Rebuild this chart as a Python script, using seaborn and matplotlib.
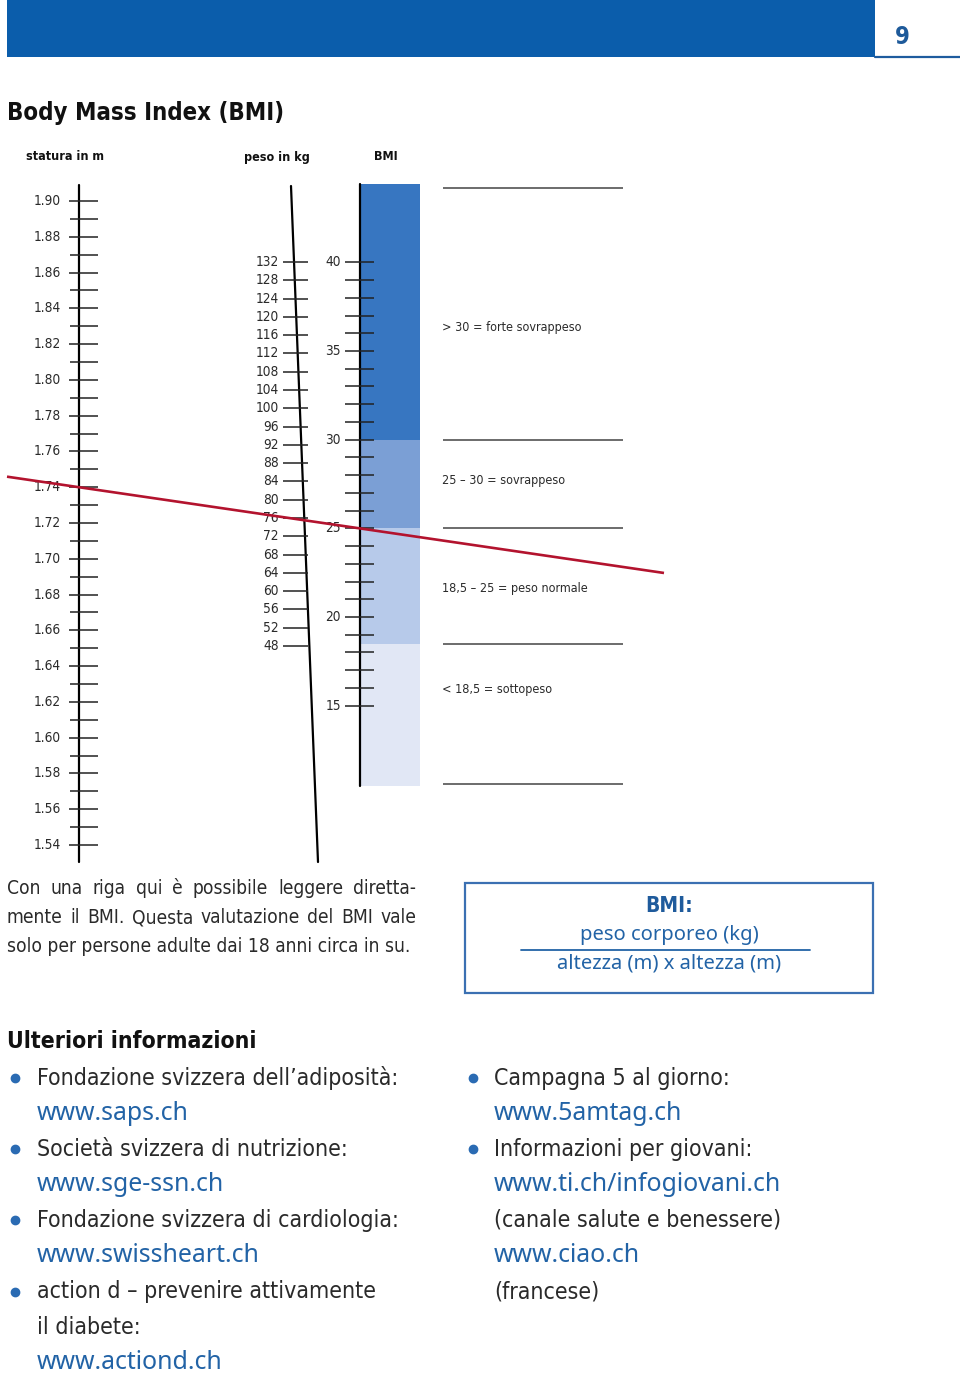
import numpy as np
import matplotlib
matplotlib.use("Agg")
import matplotlib.pyplot as plt
from matplotlib.patches import Rectangle
from matplotlib import font_manager as fm
import seaborn as sns

# ---------------- data ----------------
height_labels = [1.90, 1.88, 1.86, 1.84, 1.82, 1.80, 1.78, 1.76, 1.74, 1.72,
                 1.70, 1.68, 1.66, 1.64, 1.62, 1.60, 1.58, 1.56, 1.54]
weight_labels = [132, 128, 124, 120, 116, 112, 108, 104, 100, 96, 92, 88, 84,
                 80, 76, 72, 68, 64, 60, 56, 52, 48]
bmi_labels = [40, 35, 30, 25, 20, 15]
bmi_band_edges = [10.5, 18.5, 25, 30, 44.4]
bmi_band_colors = ["#E1E7F5", "#B7CAEA", "#7B9FD5", "#3776C1"]
bmi_categories = ["< 18,5 = sottopeso", "18,5 – 25 = peso normale",
                  "25 – 30 = sovrappeso", "> 30 = forte sovrappeso"]
bmi_category_pos = [15.9, 21.6, 27.7, 36.3]
example_height = 1.74
example_bmi = 25

left_items = [("Fondazione svizzera dell’adiposità:", "www.saps.ch"),
              ("Società svizzera di nutrizione:", "www.sge-ssn.ch"),
              ("Fondazione svizzera di cardiologia:", "www.swissheart.ch"),
              ("action d – prevenire attivamente\nil diabete:", "www.actiond.ch")]
right_lines = [("•", "Campagna 5 al giorno:"), ("url", "www.5amtag.ch"),
               ("•", "Informazioni per giovani:"), ("url", "www.ti.ch/infogiovani.ch"),
               ("", "(canale salute e benessere)"), ("url", "www.ciao.ch"),
               ("", "(francese)")]
paragraph = ["Con una riga qui è possibile leggere diretta-",
             "mente il BMI. Questa valutazione del BMI vale",
             "solo per persone adulte dai 18 anni circa in su."]

# ---------------- style ----------------
sns.set_theme(style="white")
names = {f.name for f in fm.fontManager.ttflist}
dv_cond = any(f.name == "DejaVu Sans" and str(f.stretch) in ("condensed", "semi-condensed")
              for f in fm.fontManager.ttflist)
if "Liberation Sans Narrow" in names:
    COND = dict(family=["Liberation Sans Narrow", "DejaVu Sans"])
elif dv_cond:
    COND = dict(family=["DejaVu Sans"], stretch="condensed")
else:
    COND = dict(family=["Roboto", "DejaVu Sans"])
URLF = ["Noto Sans", "Open Sans", "DejaVu Sans"]
plt.rcParams["font.family"] = ["DejaVu Sans"]

W, H = 960, 1384
fig = plt.figure(figsize=(W / 100, H / 100), dpi=100)
fig.patch.set_facecolor("white")


def overlay(v_top=None, px_top=None, v_bot=None, px_bot=None):
    ax = fig.add_axes([0, 0, 1, 1])
    ax.set_xlim(0, W)
    if v_top is None:
        ax.set_ylim(H, 0)
    else:
        s = (v_top - v_bot) / (px_bot - px_top)
        ax.set_ylim(v_top - (H - px_top) * s, v_top + px_top * s)
    ax.axis("off")
    ax.patch.set_alpha(0)
    return ax


ax0 = overlay()
TXT = "#2a2a2a"
BLUE = "#2263A6"

# header
ax0.add_patch(Rectangle((7, 0), 868, 57, color="#0B5DAB", lw=0))
ax0.plot([875, 960], [56.5, 56.5], color="#1E5C9E", lw=1.6)
ax0.text(902, 37, "9", color="#1E5A9A", fontsize=17, fontweight="bold", ha="center", va="center", **COND)

ax0.text(7, 113, "Body Mass Index (BMI)", fontsize=17.2, fontweight="bold", color="#111",
         ha="left", va="center", **COND)
for x, t in [(26, "statura in m"), (244, "peso in kg"), (374, "BMI")]:
    ax0.text(x, 157, t, fontsize=9, fontweight="bold", color="#111", ha="left", va="center", **COND)

# ---------------- height scale ----------------
axh = overlay(1.90, 201, 1.54, 845)
s_h = 0.36 / 644
axh.plot([79, 79], [1.90 + (201 - 185) * s_h, 1.90 - (862 - 201) * s_h], color="black", lw=1.6)
minor_h = np.round(np.array(height_labels[:-1]) - 0.01, 2)
axh.hlines(height_labels, 69, 98, color="#222", lw=1.1)
axh.hlines(minor_h, 70, 98, color="#222", lw=1.1)
for v in height_labels:
    axh.text(61, v, f"{v:.2f}", ha="right", va="center", fontsize=9.8, color=TXT, **COND)

# ---------------- weight scale ----------------
axw = overlay(132, 262, 48, 646)
ax0.plot([291, 318], [186, 862], color="black", lw=1.6)
axw.hlines(weight_labels, 283, 308, color="#222", lw=1.1)
for v in weight_labels:
    axw.text(279, v, f"{v}", ha="right", va="center", fontsize=9.8, color=TXT, **COND)

# ---------------- BMI scale ----------------
axb = overlay(40, 262.3, 15, 705.7)
for lo, hi, c in zip(bmi_band_edges[:-1], bmi_band_edges[1:], bmi_band_colors):
    axb.bar(390, hi - lo, bottom=lo, width=60, color=c, lw=0)
axb.plot([359.5, 359.5], [bmi_band_edges[0], bmi_band_edges[-1]], color="black", lw=1.6)
axb.hlines(np.arange(15, 41), 345, 374, color="#222", lw=1.1)
for v in bmi_labels:
    axb.text(341, v, f"{v}", ha="right", va="center", fontsize=9.8, color=TXT, **COND)
axb.hlines([10.6, 18.5, 25, 30, 44.2], 443, 623, color="#444", lw=1.1)
for t, v in zip(bmi_categories, bmi_category_pos):
    axb.text(442, v, t, ha="left", va="center", fontsize=9, color=TXT, **COND)

# ---------------- example line ----------------
axt = overlay()
fig.canvas.draw()
p1 = axt.transData.inverted().transform(axh.transData.transform((79, example_height)))
p2 = axt.transData.inverted().transform(axb.transData.transform((359.5, example_bmi)))
slope = (p2[1] - p1[1]) / (p2[0] - p1[0])
xs = np.array([7, 664])
axt.plot(xs, p1[1] + slope * (xs - p1[0]), color="#B3132E", lw=1.9, solid_capstyle="butt")

# ---------------- paragraph (justified) ----------------
renderer = fig.canvas.get_renderer()
PFS = 13.8
for i, line in enumerate(paragraph):
    y = 889 + i * 28.5
    if i < len(paragraph) - 1:
        words = line.split(" ")
        texts = [ax0.text(0, y, w, fontsize=PFS, color=TXT, ha="left", va="center", **COND) for w in words]
        widths = [t.get_window_extent(renderer).width for t in texts]
        gap = (416 - 7 - sum(widths)) / (len(words) - 1)
        x = 7
        for t, w in zip(texts, widths):
            t.set_x(x)
            x += w + gap
    else:
        ax0.text(7, y, line, fontsize=PFS, color=TXT, ha="left", va="center", **COND)

# ---------------- formula box ----------------
ax0.add_patch(Rectangle((464.5, 882.5), 408.5, 110.5, fill=False, ec="#3B70B2", lw=1.6))
ax0.text(669, 906, "BMI:", fontsize=15, fontweight="bold", color="#1F5B9C", ha="center", va="center", **COND)
ax0.text(669, 935, "peso corporeo (kg)", fontsize=14.5, color=BLUE, ha="center", va="center", family=URLF)
ax0.plot([521, 810], [949.5, 949.5], color=BLUE, lw=1.3)
ax0.text(669, 963, "altezza (m) x altezza (m)", fontsize=14.5, color=BLUE, ha="center", va="center", family=URLF)

# ---------------- further info ----------------
ax0.text(7, 1041, "Ulteriori informazioni", fontsize=16.5, fontweight="bold", color="#111",
         ha="left", va="center", **COND)
LFS = 16.6
UFS = 17.9
y = 1078
step = 35.6
for label, url in left_items:
    ax0.plot(15, y, "o", color="#2A6BB3", ms=6)
    for ln in label.split("\n"):
        ax0.text(37, y, ln, fontsize=LFS, color=TXT, ha="left", va="center", **COND)
        y += step
    ax0.text(37, y, url, fontsize=UFS, color=BLUE, ha="left", va="center", family=URLF)
    y += step

y = 1078
for kind, t in right_lines:
    if kind == "•":
        ax0.plot(473, y, "o", color="#2A6BB3", ms=6)
    if kind == "url":
        ax0.text(494, y, t, fontsize=UFS, color=BLUE, ha="left", va="center", family=URLF)
    else:
        ax0.text(494, y, t, fontsize=LFS, color=TXT, ha="left", va="center", **COND)
    y += step

fig.savefig("out.png", dpi=100)
